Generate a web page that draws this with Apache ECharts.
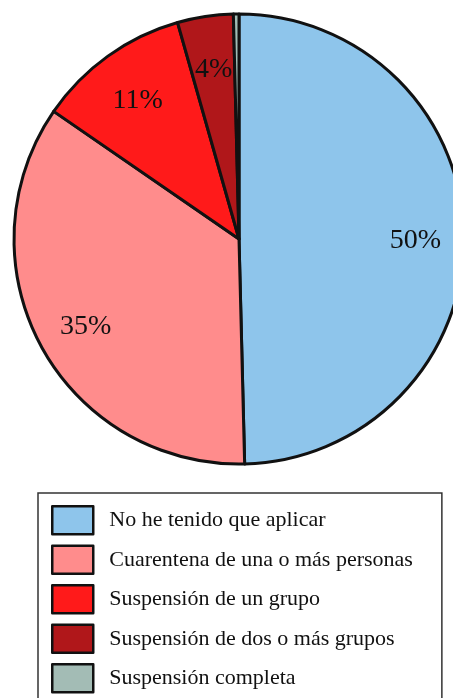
<!DOCTYPE html>
<html>
<head>
<meta charset="utf-8">
<script src="https://cdn.jsdelivr.net/npm/echarts@6/dist/echarts.min.js"></script>
<style>
  html, body { margin: 0; padding: 0; background: #fff; overflow: hidden; }
  #chart { width: 453px; height: 740px; }
</style>
</head>
<body>
<div id="chart"></div>
<script>
// categorías y valores (%)
var categories = [
  'No he tenido que aplicar',
  'Cuarentena de una o más personas',
  'Suspensión de un grupo',
  'Suspensión de dos o más grupos',
  'Suspensión completa'
]
var values = [49.6, 35, 11, 4, 0.4]
var colors = ['#8EC5EB', '#FF8C8C', '#FF1A1A', '#B0171A', '#A3BCB5']

var chart = echarts.init(document.getElementById('chart'))

var pieData = categories.map(function(name, i) {
  return { name: name, value: values[i], itemStyle: { color: colors[i] }}
})

// serie transparente solo para colocar las etiquetas a ~3/4 del radio
var labelData = categories.map(function(name, i) {
  return {
    name: name,
    value: values[i],
    label: { show: values[i] >= 1 }
  }
})

var option = {
  animation: false,
  legend: {
    orient: 'vertical',
    left: 38,
    top: 493,
    padding: [12, 29, 12, 13],
    borderColor: '#333',
    borderWidth: 1.5,
    itemWidth: 41,
    itemHeight: 28,
    itemGap: 9,
    icon: 'rect',
    itemStyle: { borderColor: '#111', borderWidth: 2.5 },
    textStyle: {
      fontFamily: 'Liberation Serif',
      fontSize: 22,
      lineHeight: 28,
      color: '#111',
      padding: [0, 0, 0, 11]
    },
    selectedMode: false,
    data: categories
  },
  series: [
    {
      name: 'main',
      type: 'pie',
      center: [239, 239],
      radius: [0, 225],
      startAngle: 90,
      clockwise: true,
      label: { show: false },
      labelLine: { show: false },
      itemStyle: { borderColor: '#111', borderWidth: 3 },
      emphasis: { disabled: true },
      data: pieData
    },
    {
      name: 'labels',
      type: 'pie',
      center: [239, 239],
      radius: [120, 225],
      startAngle: 90,
      clockwise: true,
      silent: true,
      legendHoverLink: false,
      itemStyle: { color: 'rgba(0,0,0,0)', borderWidth: 0 },
      label: {
        position: 'inside',
        fontFamily: 'Liberation Serif',
        fontSize: 28,
        color: '#111',
        offset: [1, 4],
        formatter: function(p) {
          return Math.round(p.value) + '%'
        }
      },
      labelLine: { show: false },
      emphasis: { disabled: true },
      data: labelData
    }
  ]
}

chart.setOption(option)
</script>
</body>
</html>
